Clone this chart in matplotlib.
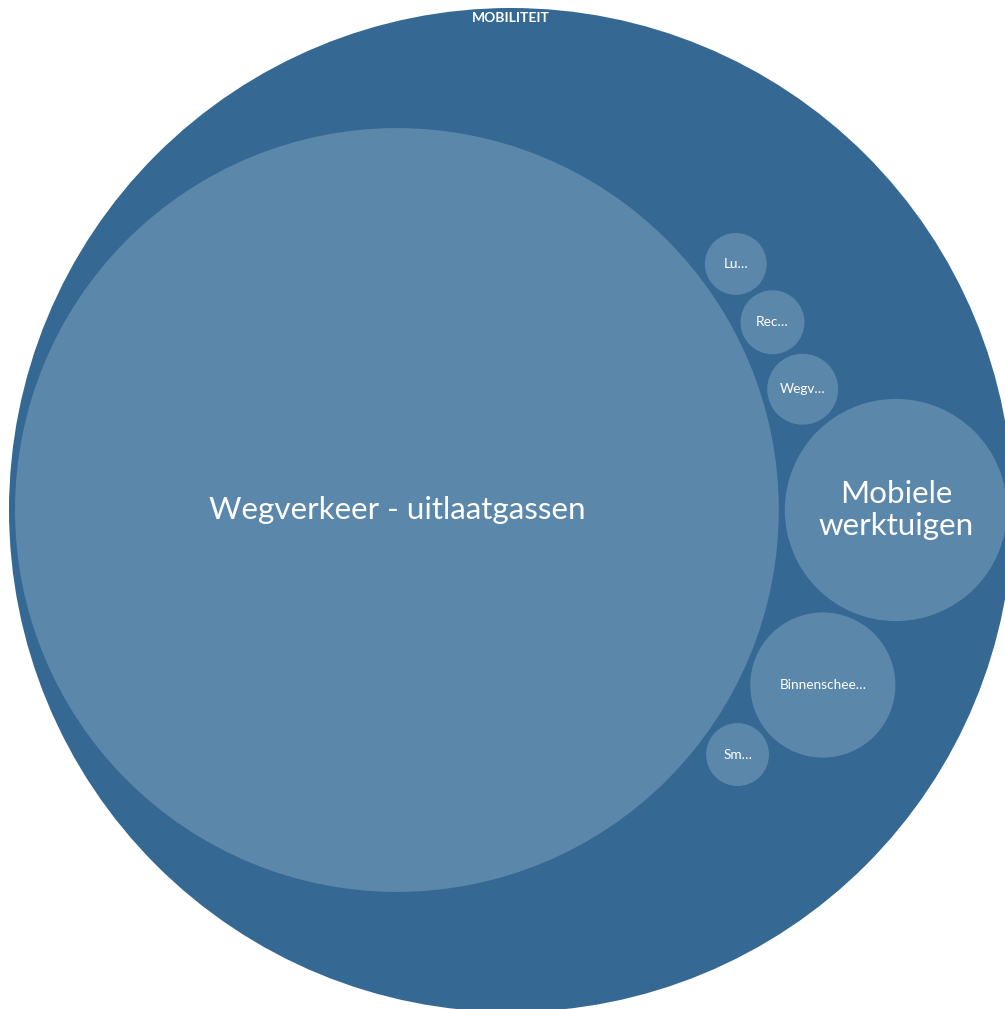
import numpy as np
import matplotlib.pyplot as plt
from matplotlib.patches import Circle

plt.rcParams['font.family'] = ['Lato', 'DejaVu Sans']

parent = "MOBILITEIT"
names = ["Wegverkeer - uitlaatgassen", "Mobiele werktuigen", "Binnenscheepvaart",
         "Wegverkeer - overig", "Recreatievaart", "Smeermiddelen", "Luchtvaart"]
labels = ["Wegverkeer - uitlaatgassen", "Mobiele\nwerktuigen", "Binnenschee…",
          "Wegv…", "Rec…", "Sm…", "Lu…"]
values = [86.97, 7.36, 3.14, 0.75, 0.61, 0.59, 0.57]   # share in %

outer_col = "#356993"
inner_col = "#5b87aa"
PAD = 3.0          # half the gap between circles, px
ROOT_R = 502.0
ROOT_C = (511.0, 510.0)


def place(b, a, c):
    # put circle c against a and b (same as d3's pack)
    dx, dy = b[0] - a[0], b[1] - a[1]
    d2 = dx * dx + dy * dy
    a2 = (a[2] + c[2]) ** 2
    b2 = (b[2] + c[2]) ** 2
    if a2 > b2:
        x = (d2 + b2 - a2) / (2 * d2)
        y = np.sqrt(max(0, b2 / d2 - x * x))
        c[0] = b[0] - x * dx - y * dy
        c[1] = b[1] - x * dy + y * dx
    else:
        x = (d2 + a2 - b2) / (2 * d2)
        y = np.sqrt(max(0, a2 / d2 - x * x))
        c[0] = a[0] + x * dx - y * dy
        c[1] = a[1] + x * dy + y * dx


def hits(a, b):
    dr = a[2] + b[2] - 1e-6
    return dr > 0 and dr * dr > (b[0] - a[0]) ** 2 + (b[1] - a[1]) ** 2


def score(a, b):
    ab = a[2] + b[2]
    x = (a[0] * b[2] + b[0] * a[2]) / ab
    y = (a[1] * b[2] + b[1] * a[2]) / ab
    return x * x + y * y


def enclose(circles):
    pts = np.array([c[:2] for c in circles])
    rs = np.array([c[2] for c in circles])
    f = lambda p: np.max(np.hypot(*(pts - p).T) + rs)
    p = pts.mean(axis=0)
    step = f(p)
    dirs = [np.array([np.cos(t), np.sin(t)]) for t in np.linspace(0, 2 * np.pi, 72, endpoint=False)]
    while step > 1e-7:
        best = f(p)
        moved = False
        for d in dirs:
            q = p + step * d
            if f(q) < best:
                best, p, moved = f(q), q, True
        if not moved:
            step /= 2
    return p, f(p)


def pack_siblings(radii):
    circ = [[0.0, 0.0, r] for r in radii]
    a, b = circ[0], circ[1]
    a[0], b[0] = -b[2], a[2]
    place(b, a, circ[2])
    # front chain as next/prev index maps
    nxt = {0: 1, 1: 2, 2: 0}
    prv = {1: 0, 2: 1, 0: 2}
    ia, ib = 0, 1
    i = 3
    while i < len(circ):
        c = circ[i]
        place(circ[ia], circ[ib], c)
        j, k = nxt[ib], prv[ia]
        sj, sk = circ[ib][2], circ[ia][2]
        retry = False
        while True:
            if sj <= sk:
                if hits(circ[j], c):
                    ib = j
                    nxt[ia], prv[ib] = ib, ia
                    retry = True
                    break
                sj += circ[j][2]
                j = nxt[j]
            else:
                if hits(circ[k], c):
                    ia = k
                    nxt[ia], prv[ib] = ib, ia
                    retry = True
                    break
                sk += circ[k][2]
                k = prv[k]
            if j == nxt[k]:
                break
        if retry:
            continue
        prv[i], nxt[i] = ia, ib
        nxt[ia] = i
        prv[ib] = i
        ib = i
        # pair closest to the centre
        best, aa = ia, score(circ[ia], circ[nxt[ia]])
        n = nxt[ib]
        while n != ib:
            s = score(circ[n], circ[nxt[n]])
            if s < aa:
                best, aa = n, s
            n = nxt[n]
        ia = best
        ib = nxt[ia]
        i += 1
    ctr, e = enclose(circ)
    for c in circ:
        c[0] -= ctr[0]
        c[1] -= ctr[1]
    return circ, e


# scale the radii so the padded layout fills the root circle
scale = 40.0
for _ in range(40):
    radii = [scale * np.sqrt(v) + PAD for v in values]
    circ, e = pack_siblings(radii)
    scale *= (ROOT_R - 2 * PAD) / (e - PAD)

fig = plt.figure(figsize=(10.05, 10.09), dpi=100)
ax = fig.add_axes([0, 0, 1, 1])
ax.set_xlim(0, 1005)
ax.set_ylim(1009, 0)
ax.set_aspect('equal')
ax.axis('off')

ax.add_patch(Circle(ROOT_C, ROOT_R, color=outer_col, lw=0))
ax.text(ROOT_C[0], ROOT_C[1] - ROOT_R + 10, parent, color='white', fontsize=10,
        fontweight='bold', ha='center', va='center')

for (x, y, r), lab in zip(circ, labels):
    cx, cy = ROOT_C[0] + x, ROOT_C[1] + y
    ax.add_patch(Circle((cx, cy), r - PAD, color=inner_col, lw=0))
    size = 22.6 if r > 100 else 9.8
    ax.text(cx, cy, lab, color='white', fontsize=size, ha='center', va='center',
            linespacing=1.15)

fig.savefig("out.png", dpi=100)
